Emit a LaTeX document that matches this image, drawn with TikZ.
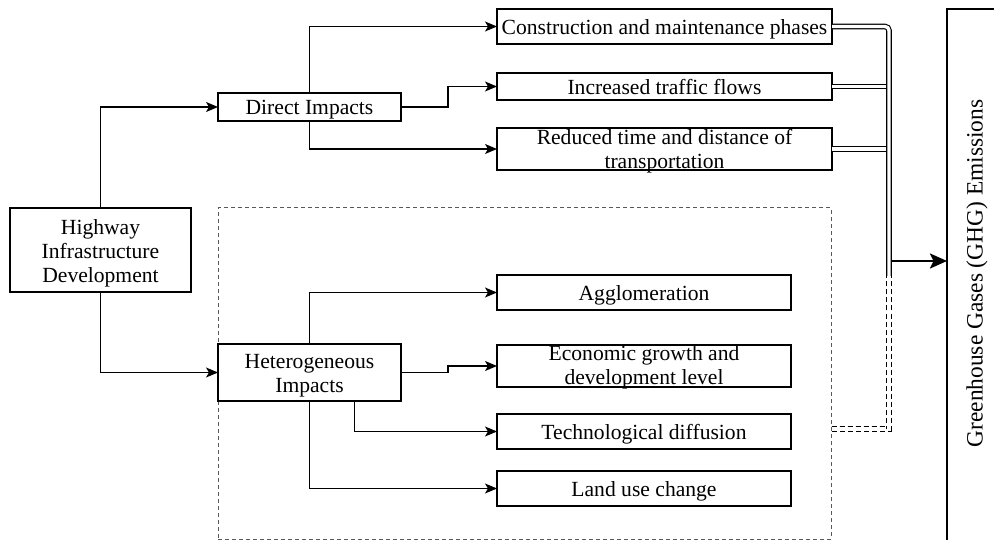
\documentclass[tikz,border=0pt]{standalone}
\usepackage{fontspec}
\setmainfont{Liberation Serif}
\usetikzlibrary{arrows.meta}
\begin{document}
\begin{tikzpicture}[x=1pt,y=-1pt,
  box/.style={draw, line width=1.3pt, inner sep=0pt, outer sep=0pt, fill=white},
  txt/.style={inner sep=0pt, anchor=base, font=\fontsize{21.6}{24}\selectfont},
  conn/.style={line width=1.3pt, -{Stealth[length=12pt,width=10pt,inset=3pt]}},
  bus/.style={double, double distance=3.4pt, line width=1.1pt},
  bigarrow/.style={line width=2.4pt, -{Stealth[length=17pt,width=15pt,inset=3.5pt]}},
  dbox/.style={draw=black!65, dash pattern=on 4pt off 3pt, line width=1pt, inner sep=0pt}
]
\useasboundingbox (0,0) rectangle (994,540);
% dashed frame
\node[dbox, minimum width=613pt, minimum height=331pt] (db) at (524.5,373.5) {};
% boxes
\node[box, minimum width=181pt, minimum height=84pt] (hw) at (100.5,250) {};
\node[box, minimum width=183pt, minimum height=28pt] (di) at (309.5,107) {};
\node[box, minimum width=183pt, minimum height=57pt] (he) at (309.5,372.5) {};
\node[box, minimum width=335pt, minimum height=35pt] (co) at (664.5,26.5) {};
\node[box, minimum width=335pt, minimum height=27pt] (in) at (664.5,86.5) {};
\node[box, minimum width=335pt, minimum height=42pt] (re) at (664.5,149) {};
\node[box, minimum width=294pt, minimum height=35pt] (ag) at (644,292.5) {};
\node[box, minimum width=294pt, minimum height=42pt] (ec) at (644,366) {};
\node[box, minimum width=294pt, minimum height=35pt] (te) at (644,431.5) {};
\node[box, minimum width=294pt, minimum height=35pt] (la) at (644,488.5) {};
\node[box, fill=none, minimum width=48pt, minimum height=536pt] (ghg) at (971,277) {};
% texts
\node[txt] (hw1) at (100.5,235) {Highway};
\node[txt] (hw2) at (100.5,259) {Infrastructure};
\node[txt] (hw3) at (100.5,283) {Development};
\node[txt] (dit) at (309.5,115) {Direct Impacts};
\node[txt] (he1) at (309.5,368) {Heterogeneous};
\node[txt] (he2) at (309.5,392.5) {Impacts};
\node[txt] (cot) at (664.5,35) {Construction and maintenance phases};
\node[txt] (int) at (664.5,94.8) {Increased traffic flows};
\node[txt] (re1) at (664.5,144.3) {Reduced time and distance of};
\node[txt] (re2) at (664.5,168.3) {transportation};
\node[txt] (agt) at (644,300.8) {Agglomeration};
\node[txt] (ec1) at (644,360.5) {Economic growth and};
\node[txt] (ec2) at (644,384.5) {development level};
\node[txt] (tet) at (644,439.8) {Technological diffusion};
\node[txt] (lat) at (644,496.8) {Land use change};
\node[inner sep=0pt, rotate=90, font=\fontsize{23.4}{26}\selectfont] (ghgt) at (977,273.5) {Greenhouse Gases (GHG) Emissions};
% connectors
\draw[conn] (hw.north) |- (di.west);
\draw[conn] (hw.south) |- (he.west);
\draw[conn] (di.north) |- (co.west);
\draw[conn] (di.east) -- ++(47,0) |- (in.west);
\draw[conn] (di.south) |- (re.west);
\draw[conn] (he.north) |- (ag.west);
\draw[conn] (he.east) -- ++(47,0) |- (ec.west);
\draw[conn] ([xshift=45pt]he.south) |- (te.west);
\draw[conn] (he.south) |- (la.west);
% bus
\coordinate (bt) at (889,276);
\coordinate (dj) at (889,429);
\coordinate (ba) at (891,261);
\draw[bus] (in.east) -- (in.east -| bt);
\draw[bus] (re.east) -- (re.east -| bt);
\draw[bus, rounded corners=4pt] (co.east) -| (bt);
\draw[bus, dash pattern=on 5pt off 3pt] (db.east |- dj) -- (dj) -- (bt);
\draw[bigarrow] (ba) -- (ghg.west |- ba);
\end{tikzpicture}
\end{document}
